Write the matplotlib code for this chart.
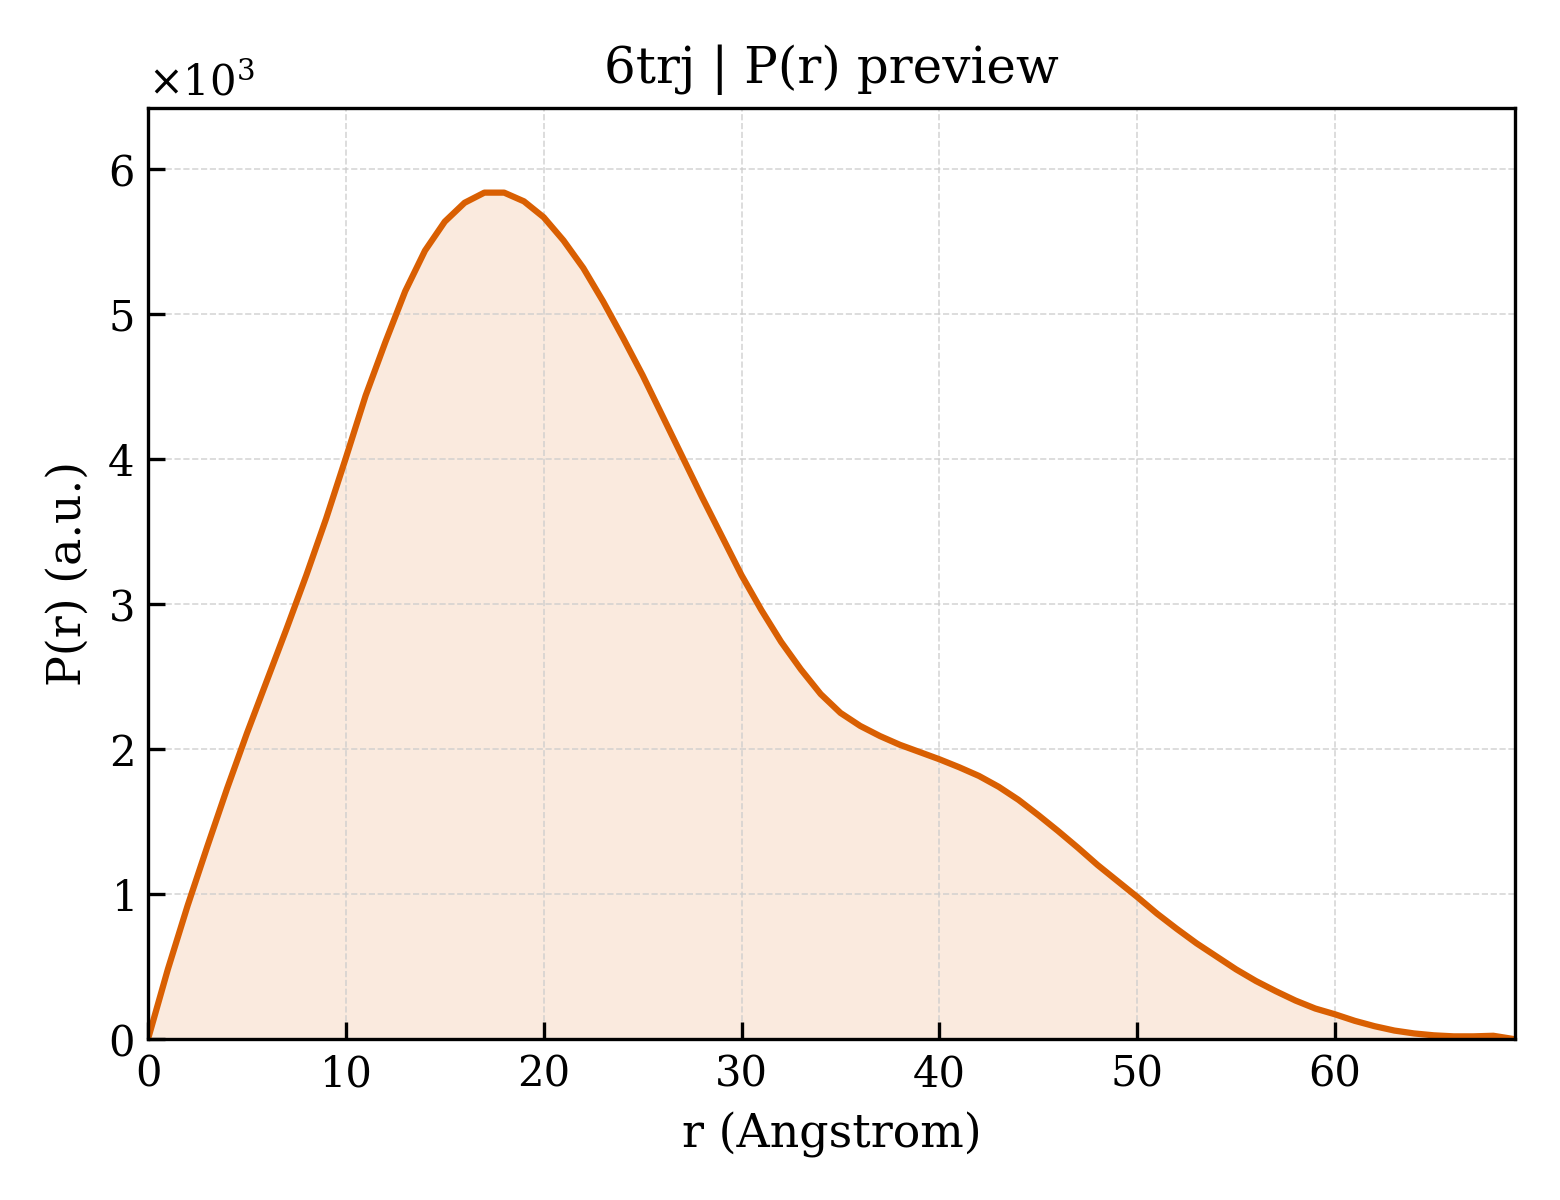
import matplotlib
matplotlib.use("Agg")
import matplotlib.pyplot as plt

plt.rcParams['font.family'] = 'DejaVu Serif'
plt.rcParams['mathtext.fontset'] = 'dejavuserif'

r_values = list(range(0, 70))
p_values = [
    0, 480, 920, 1330, 1730, 2110, 2470, 2830, 3200, 3590,
    4010, 4440, 4810, 5160, 5440, 5640, 5770, 5840, 5840, 5780,
    5670, 5510, 5320, 5090, 4840, 4580, 4300, 4020, 3740, 3470,
    3200, 2960, 2740, 2550, 2380, 2250, 2160, 2090, 2030, 1980,
    1930, 1875, 1815, 1740, 1650, 1545, 1435, 1320, 1200, 1090,
    980, 865, 760, 660, 570, 480, 400, 330, 265, 210,
    170, 125, 88, 58, 38, 25, 18, 18, 22, 0,
]
r_max = 69.1
title = "6trj | P(r) preview"
color = "#d95f02"

fig = plt.figure(figsize=(5.2, 4), dpi=300)
ax = fig.add_axes([0.0949, 0.1342, 0.9712 - 0.0949, 0.91 - 0.1342])

ax.plot(r_values, p_values, color=color, lw=1.5)
ax.fill_between(r_values, p_values, 0, color=color, alpha=0.13, lw=0)

ax.set_xlim(0, r_max)
ax.set_ylim(0, max(p_values) * 1.1)
ax.ticklabel_format(style='sci', axis='y', scilimits=(0, 0), useMathText=True)
ax.yaxis.get_offset_text().set_fontsize(10)

ax.tick_params(direction='in', length=4, width=0.8, labelsize=10)
ax.grid(True, ls='--', lw=0.4, color='#cccccc', alpha=0.8)

ax.set_xlabel("r (Angstrom)", fontsize=11)
ax.set_ylabel("P(r) (a.u.)", fontsize=11)
ax.set_title(title, fontsize=12)

fig.savefig("out.png", dpi=300)
